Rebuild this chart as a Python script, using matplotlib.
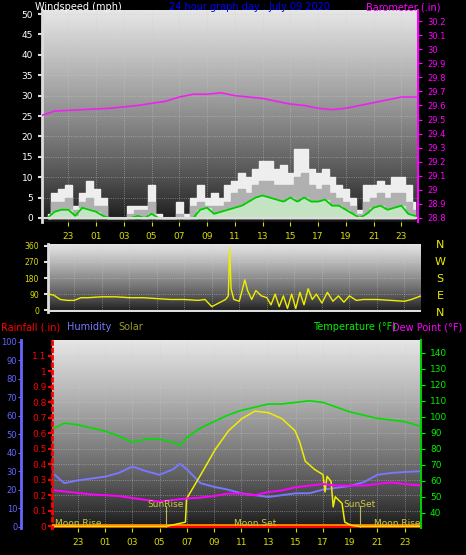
import numpy as np
import matplotlib
matplotlib.use("Agg")
import matplotlib.pyplot as plt

# time in hours relative to midnight of July 09 (negative = previous evening)
t_half = np.arange(-2.5, 24.25, 0.5)
gust = [1, 6, 7, 8, 3, 6, 9, 7, 5, 0, 0, 0, 3, 3, 3, 8, 1, 0, 0, 4, 1, 5, 8, 5, 6, 5,
        8, 9, 11, 10, 12, 14, 14, 12, 13, 11, 17, 17, 12, 11, 12, 10, 8, 7, 5, 2, 8, 8,
        9, 8, 10, 10, 8, 4]
wind_mid = [0, 4, 4, 5, 2, 4, 5, 3, 3, 0, 0, 0, 1, 2, 2, 4, 0, 0, 0, 1, 0, 3, 4, 3, 3, 3,
            4, 6, 7, 6, 8, 9, 9, 8, 8, 8, 10, 11, 8, 7, 8, 6, 5, 4, 3, 1, 4, 5,
            6, 5, 6, 6, 4, 2]
wind_avg = [0, 1.5, 2, 2, 0.5, 2.5, 2, 1.5, 0.5, 0, 0, 0, 0, 0.5, 0, 1, 0, 0, 0, 0, 0, 0,
            2, 2.5, 1, 1.5, 2, 2.5, 3, 4, 5, 5.5, 5, 4.5, 4, 5, 4, 5, 4, 4, 4.5, 3, 3, 2,
            1, 0, 1, 2.5, 3, 2, 2.5, 3, 1, 0.5]

t_baro = [-2.9, -2, 0, 2, 4, 6, 7, 8, 9, 10, 11, 12, 13, 14, 15, 16, 17, 18, 19, 20, 21,
          22, 23, 24.2]
baro = [29.53, 29.56, 29.57, 29.58, 29.6, 29.63, 29.66, 29.68, 29.68, 29.69, 29.67,
        29.66, 29.65, 29.63, 29.61, 29.6, 29.58, 29.57, 29.58, 29.6, 29.62, 29.64,
        29.66, 29.66]

t_dir = [-2.9, -2.5, -2, -1.5, -1, -0.5, 0, 1, 2, 3, 4, 5, 6, 7, 8, 8.5, 9, 9.5, 10,
         10.2, 10.3, 10.4, 10.6, 11, 11.4, 11.6, 11.9, 12.2, 12.6, 13, 13.3, 13.6, 13.9,
         14.2, 14.5, 14.8, 15.1, 15.4, 15.7, 16.0, 16.3, 16.6, 17, 17.4, 17.8, 18.2,
         18.6, 19, 19.5, 20, 21, 22, 23, 23.5, 24.2]
wind_dir = [90, 85, 60, 55, 55, 70, 70, 75, 75, 70, 70, 65, 60, 60, 55, 60, 20, 40, 60,
            80, 350, 120, 60, 50, 170, 110, 60, 110, 80, 70, 30, 90, 20, 80, 10, 90, 10,
            100, 30, 120, 60, 90, 40, 100, 50, 80, 45, 80, 55, 60, 60, 55, 50, 60, 80]

t_temp = [-2.7, -2, -1, 0, 1, 2, 3, 4, 5, 6, 6.5, 7, 8, 9, 10, 11, 12, 13, 14, 15, 16,
          17, 18, 19, 20, 21, 22, 23, 24.2]
temp = [93, 96, 95, 93, 91, 88, 84, 86, 86, 84, 82, 87, 93, 97, 101, 104, 106, 108, 108,
        109, 110, 109, 106, 103, 101, 99, 98, 97, 94]
humidity = [28, 23.5, 25, 26, 27, 29, 32.5, 30, 28, 31, 34, 31, 23.5, 21.5, 20, 18, 17,
            16, 17, 18, 18, 20, 21, 22, 24, 28, 29, 29.5, 30]
t_dew = [-2.7, 0, 2, 4, 5, 6, 7, 8, 9, 10, 11, 12, 13, 14, 15, 16, 17, 18, 19, 20, 21,
         22, 23, 24.2]
dew = [54, 51.5, 50.5, 48, 47, 48, 49, 49.5, 50.5, 52, 52, 51, 53, 54, 56, 57, 58, 57,
       57, 57, 58, 59, 58, 57]
t_solar = [-2.7, 5.44, 6.9, 6.98, 8.1, 9.1, 10.07, 11.05, 12.0, 13.0, 13.98, 14.95, 15.3,
           15.7, 16.4, 17.0, 17.15, 17.3, 17.6, 17.75, 17.9, 18.4, 18.6, 19.1, 19.7, 24.2]
solar = [0, 0, 38, 240, 464, 670, 830, 935, 1000, 986, 935, 830, 730, 566, 493, 450, 300,
         435, 390, 170, 258, 200, 38, 9, 0, 0]
t_rain = [-2.7, 24.2]
rain = [0, 0]

hour_ticks = list(range(-1, 24, 2))
hour_labels = ["%02d" % (h % 24) for h in hour_ticks]

W, H = 466, 555
fig = plt.figure(figsize=(W / 100, H / 100), dpi=100, facecolor="black")
FS = 6.5


def box(l, t, r, b):
    return [l / W, 1 - b / H, (r - l) / W, (b - t) / H]


def backdrop(ax, x0, x1, y0, y1):
    grad = np.linspace(0, 1, 256).reshape(-1, 1) ** 0.8
    ax.imshow(grad, extent=[x0, x1, y0, y1], aspect="auto", cmap="gray",
              vmin=-0.1, vmax=1.12, origin="lower", zorder=0)
    ax.set_xlim(x0, x1)
    ax.set_ylim(y0, y1)


def style(ax, color_left):
    ax.set_facecolor("black")
    for s in ax.spines.values():
        s.set_visible(False)
    ax.spines["left"].set_visible(True)
    ax.spines["left"].set_color(color_left)
    ax.spines["left"].set_linewidth(2)
    ax.tick_params(axis="y", colors=color_left, labelsize=FS, length=3, width=1.5)
    ax.grid(True, color="#cccccc", linestyle=":", linewidth=0.6, alpha=0.6)


x0, x1 = -2.9, 24.2

# top panel: wind speed + barometer
ax1 = fig.add_axes(box(42, 10, 418, 222))
backdrop(ax1, x0, x1, -1, 51)
style(ax1, "#dddddd")
ax1.set_yticks(range(0, 51, 5))
ax1.tick_params(axis="y", labelcolor="white")
ax1.set_xticks(hour_ticks)
ax1.set_xticklabels(hour_labels)
ax1.tick_params(axis="x", colors="#dddd00", labelsize=FS, length=3, pad=4)
ax1.fill_between(t_half, gust, step="mid", color="#eeeeee", zorder=2)
ax1.fill_between(t_half, wind_mid, step="mid", color="#b0b0b0", zorder=2)
ax1.fill_between(t_half, wind_avg, step="mid", color="#c8f0c8", alpha=0.8, zorder=2)
ax1.plot(t_half, wind_avg, color="#00cc00", lw=1.3, zorder=3)
ax1.axhline(0, color="#dddddd", lw=1.5, zorder=3)

axb = ax1.twinx()
axb.set_ylim(28.77, 30.28)
axb.set_yticks(np.round(np.arange(28.8, 30.21, 0.1), 1))
axb.set_yticklabels(["%g" % v for v in np.round(np.arange(28.8, 30.21, 0.1), 1)])
for s in axb.spines.values():
    s.set_visible(False)
axb.spines["right"].set_visible(True)
axb.spines["right"].set_color("#ff00ff")
axb.spines["right"].set_linewidth(1.5)
axb.tick_params(axis="y", colors="#ff00ff", labelsize=FS - 0.5, length=3)
axb.plot(t_baro, baro, color="#ee22ee", lw=1.2, zorder=3)

fig.text(35 / W, 1 - 7 / H, "Windspeed (mph)", color="white", fontsize=7, va="center")
fig.text(250 / W, 1 - 7 / H, "24 hour graph day : July 09 2020", color="#0000ff",
         fontsize=7, va="center", ha="center")
fig.text(440 / W, 1 - 7 / H, "Barometer (.in)", color="#ff00ff", fontsize=7,
         va="center", ha="right")

# middle panel: wind direction
ax2 = fig.add_axes(box(48, 244, 421, 312))
backdrop(ax2, x0, x1, -10, 370)
style(ax2, "#dddddd")
ax2.set_yticks([0, 90, 180, 270, 360])
ax2.tick_params(axis="y", labelcolor="#dddd00", labelsize=FS - 1)
ax2.set_xticks(hour_ticks)
ax2.tick_params(axis="x", length=0, labelbottom=False)
ax2.plot(t_dir, wind_dir, color="#eeee00", lw=1.0, zorder=3)
ax2.axhline(-5, color="#dddddd", lw=1.5, zorder=3)
for i, lab in enumerate("NWSEN"):
    fig.text(440 / W, 1 - (245 + i * 17) / H, lab, color="#eeee00", fontsize=8,
             ha="center", va="center")

# bottom panel: rainfall, humidity, solar, temperature, dew point
ax3 = fig.add_axes(box(52, 340, 421, 528))
backdrop(ax3, x0, x1, -0.01, 1.2)
style(ax3, "#ff0000")
ax3.spines["left"].set_linestyle(":")
ax3.set_yticks(np.round(np.arange(0, 1.11, 0.1), 1))
ax3.set_yticklabels(["%g" % v for v in np.round(np.arange(0, 1.11, 0.1), 1)])
ax3.tick_params(axis="y", pad=1)
ax3.set_xticks(hour_ticks)
ax3.set_xticklabels(hour_labels)
ax3.tick_params(axis="x", colors="#dddd00", labelsize=FS, length=3, pad=4)
ax3.plot(t_rain, rain, color="#ff0000", lw=2.5, zorder=4)
ax3.axhline(0.008, color="#ff9900", lw=1.2, zorder=4)

axh = ax3.twinx()
axh.set_ylim(-0.8, 101)
for s in axh.spines.values():
    s.set_visible(False)
axh.spines["left"].set_visible(True)
axh.spines["left"].set_position(("outward", 22))
axh.spines["left"].set_color("#6666ff")
axh.spines["left"].set_linewidth(2)
axh.yaxis.set_ticks_position("left")
axh.yaxis.set_label_position("left")
axh.set_yticks(range(0, 101, 10))
axh.tick_params(axis="y", colors="#6666ff", labelsize=FS - 0.5, length=2, pad=1)
axh.plot(t_temp, humidity, color="#7777ff", lw=1.4, zorder=3)
axh.plot(t_solar, np.array(solar) / 16.0, color="#eeee00", lw=1.1, zorder=3)

axt = ax3.twinx()
axt.set_ylim(30.5, 148)
for s in axt.spines.values():
    s.set_visible(False)
axt.spines["right"].set_visible(True)
axt.spines["right"].set_color("#00cc00")
axt.spines["right"].set_linewidth(1.5)
axt.set_yticks(range(40, 141, 10))
axt.tick_params(axis="y", colors="#00ee00", labelsize=FS, length=3)
axt.plot(t_temp, temp, color="#00dd00", lw=1.2, zorder=3)
axt.plot(t_dew, dew, color="#ff00ff", lw=1.4, zorder=3)

for tx, lab in [(5.44, "SunRise"), (19.7, "SunSet")]:
    axt.plot([tx, tx], [30.5, 44], color="#bbbb55", lw=0.8)
    axt.text(tx, 45, lab, color="#cccc44", fontsize=FS, ha="center", va="center")
for tx, lab, ha in [(-2.7, "Moon Rise", "left"), (12.0, "Moon Set", "center"),
                    (24.2, "Moon Rise", "right")]:
    axt.text(tx, 33.5, lab, color="#cccc44", fontsize=FS, ha=ha, va="center")

y_hdr = 1 - 327 / H
fig.text(0.002, y_hdr, "Rainfall (.in)", color="#ff0000", fontsize=7, va="center")
fig.text(67 / W, y_hdr, "Humidity", color="#7777ff", fontsize=7, va="center")
fig.text(118 / W, y_hdr, "Solar", color="#999933", fontsize=7, va="center")
fig.text(313 / W, y_hdr, "Temperature (°F)", color="#00ee00", fontsize=7, va="center")
fig.text(462 / W, y_hdr, "Dew Point (°F)", color="#ff00ff", fontsize=7, va="center",
         ha="right")

fig.savefig("out.png", dpi=100, facecolor="black")
